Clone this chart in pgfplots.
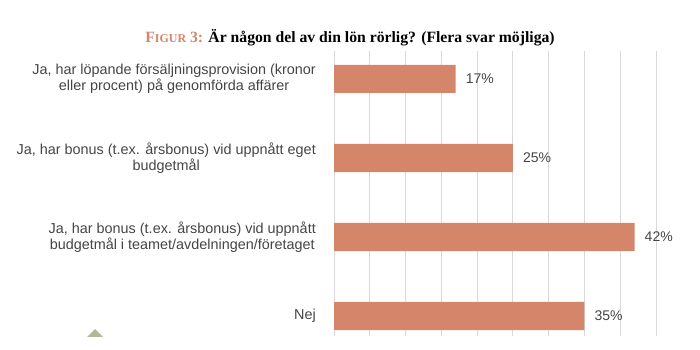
\documentclass[border=0pt]{standalone}
\usepackage{fontspec}
\setmainfont{Liberation Serif}
\newfontfamily\arial{Liberation Sans}
\usepackage{pgfplots}
\pgfplotsset{compat=1.18}
\definecolor{barc}{HTML}{D5856A}
\definecolor{gridc}{HTML}{D9D9D9}
\definecolor{txt}{HTML}{454545}
\definecolor{figc}{HTML}{D5856A}
\definecolor{tri}{HTML}{B3B896}
\begin{document}
\begin{tikzpicture}
\useasboundingbox (0,0) rectangle (700pt,350pt);
\begin{axis}[
  at={(334pt,17pt)}, anchor=south west,
  scale only axis, width=322pt, height=279pt,
  xbar, bar width=0.355,
  xmin=0, xmax=45, ymin=-0.215, ymax=3.316,
  axis line style={draw=none},
  xtick={0,5,...,45}, xticklabels={},
  xmajorgrids, grid style={gridc, line width=0.9pt},
  x tick style={gridc, line width=0.9pt},
  tick align=outside, major tick length=3pt,
  ytick={0,1,2,3}, y tick style={draw=none},
  yticklabels={Nej,
    {Ja, har bonus (t.ex. årsbonus) vid uppnått\\budgetmål i teamet/avdelningen/företaget},
    {Ja, har bonus (t.ex. årsbonus) vid uppnått eget\\budgetmål},
    {Ja, har löpande försäljningsprovision (kronor\\eller procent) på genomförda affärer}},
  y tick label style={align=center, font=\arial\fontsize{14.4}{16.5}\selectfont, text=txt, inner sep=0pt, xshift=-15pt},
  /pgf/number format/assume math mode=true,
  nodes near coords={\pgfmathprintnumber\pgfplotspointmeta\%},
  nodes near coords style={font=\arial\fontsize{14}{16}\selectfont, text=txt, anchor=west, inner sep=0pt, xshift=10pt},
]
\addplot[fill=barc, draw=none] coordinates {(17,3) (25,2) (42,1) (35,0)};
\end{axis}
\node[anchor=base] at (350pt,307pt) {\fontsize{15.7}{18}\selectfont\bfseries\textcolor{figc}{F{\fontsize{12}{14}\selectfont IGUR} 3:} Är någon del av din lön rörlig? (Flera svar möjliga)};
\fill[tri] (87pt,13pt) -- (103pt,13pt) -- (95pt,21pt) -- cycle;
\end{tikzpicture}
\end{document}
